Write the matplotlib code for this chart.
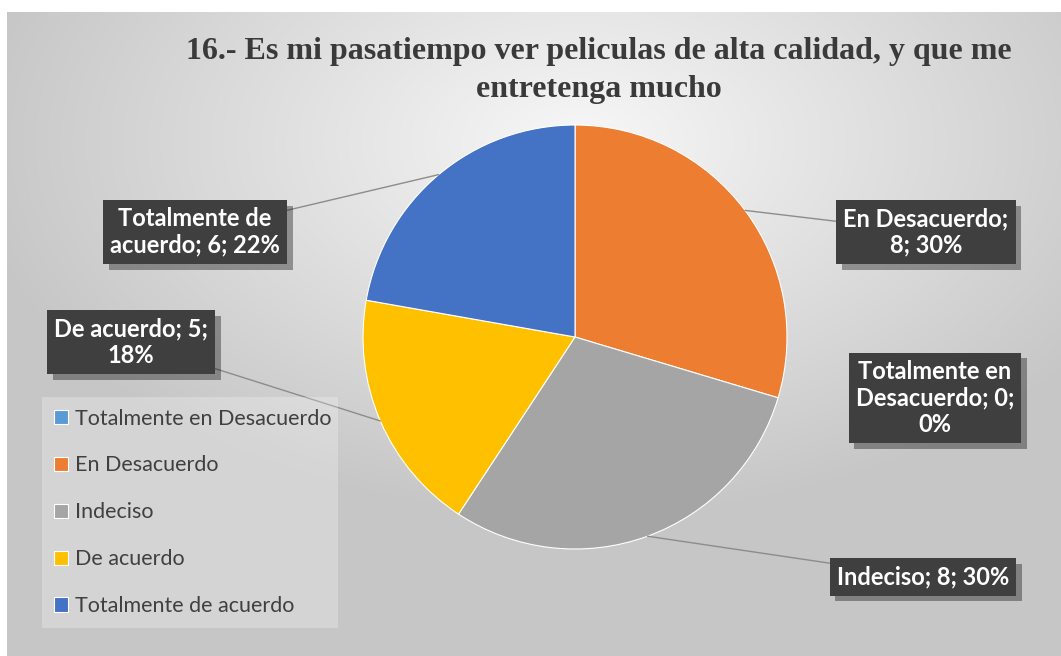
import numpy as np
import matplotlib
matplotlib.use("Agg")
import matplotlib.pyplot as plt
import matplotlib.patheffects as pe

# datos de la pregunta 16
categorias = ["Totalmente en Desacuerdo", "En Desacuerdo", "Indeciso",
              "De acuerdo", "Totalmente de acuerdo"]
valores = [0, 8, 8, 5, 6]
colores = ["#5B9BD5", "#ED7D31", "#A5A5A5", "#FFC000", "#4472C4"]
etiquetas = ["Totalmente en\nDesacuerdo; 0;\n0%", "En Desacuerdo;\n8; 30%",
             "Indeciso; 8; 30%", "De acuerdo; 5;\n18%", "Totalmente de\nacuerdo; 6; 22%"]
titulo = ["16.- Es mi pasatiempo ver peliculas de alta calidad, y que me",
          "entretenga mucho"]

W, H = 1061, 656
fig = plt.figure(figsize=(W / 100, H / 100), dpi=100)
fig.patch.set_facecolor("white")

# fondo con degradado radial
bg = fig.add_axes([7 / W, 0, 1 - 7 / W, 1 - 12 / H])
yy, xx = np.mgrid[0:300, 0:480]
d = np.sqrt(((xx - 260) / 480) ** 2 + ((yy - 60) / 300) ** 2)
g = np.clip(0.97 - 0.33 * d, 0.78, 0.97)
bg.imshow(np.dstack([g, g, g]), aspect="auto", extent=[0, 1, 0, 1])
bg.set_axis_off()

# ejes en coordenadas de pixel (y hacia arriba)
ax = fig.add_axes([0, 0, 1, 1])
ax.set_xlim(0, W)
ax.set_ylim(0, H)
ax.set_axis_off()
cx, cy, r = 575, H - 337, 212

wedges, _ = ax.pie(valores, colors=colores, startangle=90, counterclock=False,
                   center=(cx, cy), radius=r, frame=True,
                   wedgeprops=dict(edgecolor="white", linewidth=0.8))
ax.set_xlim(0, W)
ax.set_ylim(0, H)
ax.set_axis_off()

# posiciones de las etiquetas (pixeles, desde arriba)
pos = [(935, 398), (926, 232), (923, 577), (131, 342), (195, 232)]

for w, lab, (px, py), v in zip(wedges, etiquetas, pos, valores):
    ang = np.deg2rad((w.theta1 + w.theta2) / 2)
    mx, my = cx + r * np.cos(ang), cy + r * np.sin(ang)
    arrow = None if v == 0 else dict(arrowstyle="-", color="#8c8c8c", lw=1,
                                      shrinkA=0, shrinkB=0)
    t = ax.annotate(lab, xy=(mx, my), xytext=(px, H - py), ha="center", va="center",
                    fontsize=17, fontweight="bold", family="Lato", color="white",
                    linespacing=1.2, arrowprops=arrow,
                    bbox=dict(boxstyle="square,pad=0.3", fc="#3f3f3f",
                              ec="none", lw=0))
    t.get_bbox_patch().set_path_effects([
        pe.SimplePatchShadow(offset=(4, -4), shadow_rgbFace="black", alpha=0.35),
        pe.Normal()])

# leyenda
leg = ax.legend(wedges, categorias, loc="lower left",
                bbox_to_anchor=(42 / W, 28 / H, 296 / W, 228 / H),
                bbox_transform=fig.transFigure, mode="expand",
                prop=dict(family="Lato", size=15.5), labelcolor="#404040",
                frameon=True, fancybox=False, handlelength=0.65, handleheight=0.65,
                handletextpad=0.35, labelspacing=1.25, borderpad=0.55,
                borderaxespad=0)
leg.get_frame().set_facecolor("white")
leg.get_frame().set_edgecolor("none")
leg.get_frame().set_alpha(0.25)

# titulo
fig.text(599 / W, 1 - 52 / H, titulo[0], ha="center", va="center", fontsize=23,
         fontweight="bold", family="Liberation Serif", color="#3a3a3a")
fig.text(599 / W, 1 - 90 / H, titulo[1], ha="center", va="center", fontsize=23,
         fontweight="bold", family="Liberation Serif", color="#3a3a3a")

plt.savefig("out.png", dpi=100)
